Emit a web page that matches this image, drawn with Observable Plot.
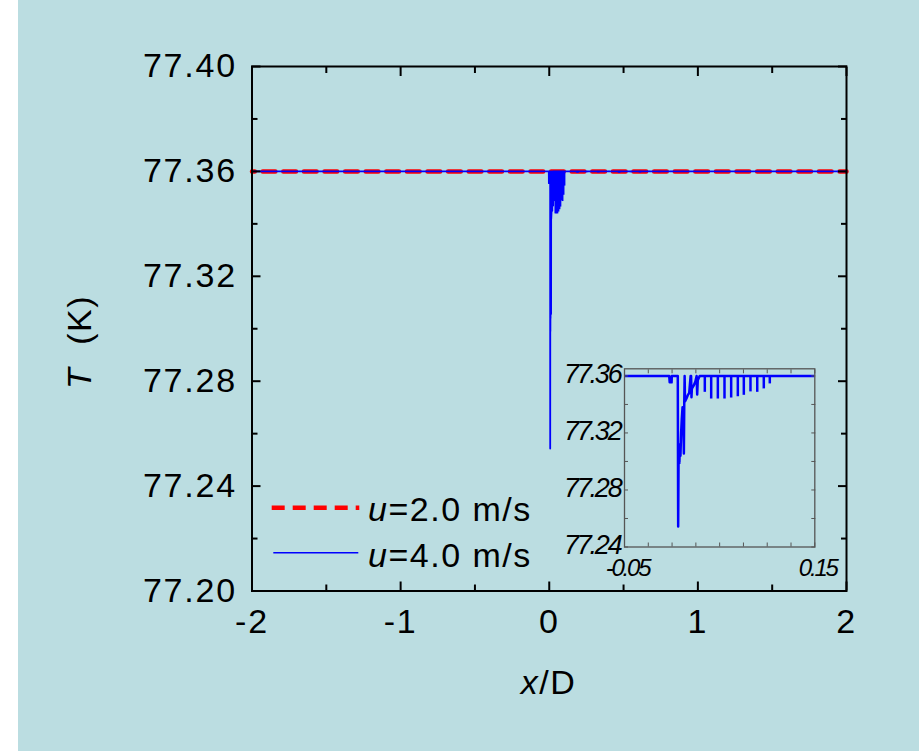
<!DOCTYPE html>
<html><head><meta charset="utf-8">
<script src="https://cdn.jsdelivr.net/npm/d3@7"></script>
<script src="https://cdn.jsdelivr.net/npm/@observablehq/plot@0.6"></script>
<style>
html,body{margin:0;padding:0;width:919px;height:751px;overflow:hidden;background:#fff;font-family:"Liberation Sans",Arial,sans-serif;}
#bg{position:absolute;left:18px;top:0;width:901px;height:751px;background:#BBDDE1;}
#main{position:absolute;left:0;top:0;}
#inset{position:absolute;left:540px;top:350px;}
#overlay{position:absolute;left:0;top:0;pointer-events:none;}
</style></head>
<body>
<div id="bg"></div>
<div id="main"></div>
<div id="inset"></div>
<svg id="overlay" width="919" height="751" font-family="Liberation Sans, Arial, sans-serif" font-size="34" letter-spacing="1.5">
  <text x="548.5" y="694" text-anchor="middle"><tspan font-style="italic">x</tspan>/D</text>
  <text transform="translate(90.7,342) rotate(-90)" text-anchor="middle"><tspan font-style="italic">T</tspan>&#160; (K)</text>
  <line x1="271.7" x2="359.3" y1="507.7" y2="507.7" stroke="#ff0000" stroke-width="4.5" stroke-dasharray="13,8"/>
  <text x="368" y="520.7"><tspan font-style="italic">u</tspan>=2.0 m/s</text>
  <line x1="273.3" x2="358.3" y1="552.7" y2="552.7" stroke="#0000ff" stroke-width="1.5"/>
  <text x="368" y="567.3"><tspan font-style="italic">u</tspan>=4.0 m/s</text>
</svg>
<script>
// ---- data ----
const BASE_T = 77.36;
// u = 2.0 m/s (red dashed)
const u2X = [-2, 2];
const u2T = [77.36, 77.36];
// u = 4.0 m/s (blue) trace
const u4X = [-2, -0.0030, -0.0025, -0.0005, -0.0003, 0.0060, 0.0064, 0.0068, 0.0072, 0.0077, 0.0082, 0.0088, 0.0095, 0.0102, 0.0110, 0.0118, 0.0124, 0.0128, 0.0132, 0.0136, 0.0150, 0.0165, 0.0180, 0.0195, 0.0200, 0.0204, 0.0208, 0.0225, 0.0245, 0.0258, 0.0264, 0.0270, 0.0290, 2];
const u4T = [77.36, 77.36, 77.3555, 77.3555, 77.36, 77.36, 77.2543, 77.2985, 77.3105, 77.2990, 77.3120, 77.3040, 77.3200, 77.3300, 77.3380, 77.3300, 77.3056, 77.3410, 77.3600, 77.3420, 77.3440, 77.3465, 77.3480, 77.3600, 77.3600, 77.3450, 77.3510, 77.3530, 77.3560, 77.3600, 77.3470, 77.3570, 77.3600, 77.36];
// periodic downward spikes of the u = 4.0 m/s trace
const spikeX = [0.0344, 0.0411, 0.0481, 0.0551, 0.0621, 0.0691, 0.0754, 0.0824, 0.0895, 0.0964, 0.1027];
const spikeT = [77.3485, 77.3438, 77.3438, 77.3438, 77.3445, 77.3454, 77.3464, 77.3488, 77.3485, 77.3509, 77.3544];
// tiny ripples further downstream (main panel only)
const rippleX = [0.19, 0.25, 0.33, 0.40, 0.47, 0.55, 0.61, 0.67, 0.74, 0.82, 0.90, 0.98, 1.07, 1.16];
const rippleT = [77.3593, 77.3595, 77.3594, 77.3596, 77.3593, 77.3595, 77.3594, 77.3596, 77.3595, 77.3596, 77.3597, 77.3596, 77.3597, 77.3597];
// ticks
const xTicks = [-2, -1, 0, 1, 2];
const xMinor = [-1.5, -0.5, 0.5, 1.5];
const yTicks = [77.20, 77.24, 77.28, 77.32, 77.36, 77.40];
const yMinor = [77.22, 77.26, 77.30, 77.34, 77.38];
const insetXTicks = [-0.05, -0.025, 0, 0.025, 0.05, 0.075, 0.1, 0.125, 0.15];
const insetXLabels = [-0.05, 0.15];
const insetYTicks = [77.24, 77.26, 77.28, 77.30, 77.32, 77.34, 77.36];
const insetYLabels = [77.24, 77.28, 77.32, 77.36];

// ---- tables ----
const u2 = u2X.map((x, i) => ({x, T: u2T[i]}));
const u4 = u4X.map((x, i) => ({x, T: u4T[i]}));
const spikes = spikeX.map((x, i) => ({x, T: spikeT[i], base: BASE_T}));
const ripples = rippleX.map((x, i) => ({x, T: rippleT[i], base: BASE_T}));

const BLUE = "#0000ff", RED = "#ff0000";
const blank = () => "";

const main = Plot.plot({
  width: 919, height: 751,
  marginLeft: 251.5, marginRight: 73, marginTop: 66, marginBottom: 160.5,
  x: {domain: [-2, 2], label: null},
  y: {domain: [77.20, 77.40], label: null},
  style: {background: "transparent", fontFamily: "Liberation Sans, Arial, sans-serif", fontSize: "34px", letterSpacing: "1.8px", color: "#000", overflow: "visible"},
  marks: [
    Plot.line(u2, {x: "x", y: "T", stroke: RED, strokeWidth: 4.5, strokeDasharray: "12.7,7.9", strokeDashoffset: 9.9}),
    Plot.line(u4, {x: "x", y: "T", stroke: BLUE, strokeWidth: 1.8}),
    Plot.ruleX(spikes, {x: "x", y1: "base", y2: "T", stroke: BLUE, strokeWidth: 1.8}),
    Plot.ruleX(ripples, {x: "x", y1: "base", y2: "T", stroke: BLUE, strokeWidth: 2.6}),
    Plot.frame({stroke: "#000", strokeWidth: 2}),
    Plot.axisX(xTicks, {anchor: "bottom", tickSize: -9, tickFormat: blank, label: null, strokeWidth: 2}),
    Plot.axisX(xTicks, {anchor: "top", tickSize: -9, tickFormat: blank, label: null, strokeWidth: 2}),
    Plot.axisX(xMinor, {anchor: "bottom", tickSize: -6, tickFormat: blank, label: null, strokeWidth: 2}),
    Plot.axisX(xMinor, {anchor: "top", tickSize: -6, tickFormat: blank, label: null, strokeWidth: 2}),
    Plot.axisY(yTicks, {anchor: "left", tickSize: -9, tickFormat: blank, label: null, strokeWidth: 2}),
    Plot.axisY(yTicks, {anchor: "right", tickSize: -9, tickFormat: blank, label: null, strokeWidth: 2}),
    Plot.axisY(yMinor, {anchor: "left", tickSize: -6, tickFormat: blank, label: null, strokeWidth: 2}),
    Plot.axisY(yMinor, {anchor: "right", tickSize: -6, tickFormat: blank, label: null, strokeWidth: 2}),
    Plot.axisX(xTicks, {anchor: "bottom", tickSize: 0, tickPadding: 18, tickFormat: d => String(d), label: null}),
    Plot.axisY(yTicks, {anchor: "left", tickSize: 0, tickPadding: 15, tickFormat: d => d.toFixed(2), label: null})
  ]
});
document.getElementById("main").appendChild(main);

const inset = Plot.plot({
  width: 300, height: 240,
  marginLeft: 84, marginRight: 25.7, marginTop: 18.3, marginBottom: 43.5,
  x: {domain: [-0.05, 0.15], label: null},
  y: {domain: [77.24, 77.365], label: null},
  style: {background: "transparent", fontFamily: "Liberation Sans, Arial, sans-serif", fontSize: "28px", color: "#000", overflow: "visible"},
  marks: [
    Plot.line(u4, {x: "x", y: "T", stroke: BLUE, strokeWidth: 2.5, clip: true}),
    Plot.ruleX(spikes, {x: "x", y1: "base", y2: "T", stroke: BLUE, strokeWidth: 2.5}),
    Plot.frame({stroke: "#555", strokeWidth: 1.3}),
    Plot.axisX(insetXTicks, {anchor: "bottom", tickSize: -4, tickFormat: blank, label: null, stroke: "#555"}),
    Plot.axisX(insetXTicks, {anchor: "top", tickSize: -4, tickFormat: blank, label: null, stroke: "#555"}),
    Plot.axisY(insetYTicks, {anchor: "left", tickSize: -4, tickFormat: blank, label: null, stroke: "#555"}),
    Plot.axisY(insetYTicks, {anchor: "right", tickSize: -4, tickFormat: blank, label: null, stroke: "#555"}),
    Plot.axisX(insetXLabels, {anchor: "bottom", tickSize: 0, tickPadding: 12, tickFormat: d => d.toFixed(2), label: null, fontSize: 24, fontStyle: "italic", dx: 3}),
    Plot.axisY(insetYLabels, {anchor: "left", tickSize: 0, tickPadding: 4, tickFormat: d => d.toFixed(2), label: null, fontSize: 27, fontStyle: "italic", dy: -2})
  ]
});
d3.select(inset).selectAll("text").style("letter-spacing", "-2.2px");
document.getElementById("inset").appendChild(inset);
</script>
</body></html>
